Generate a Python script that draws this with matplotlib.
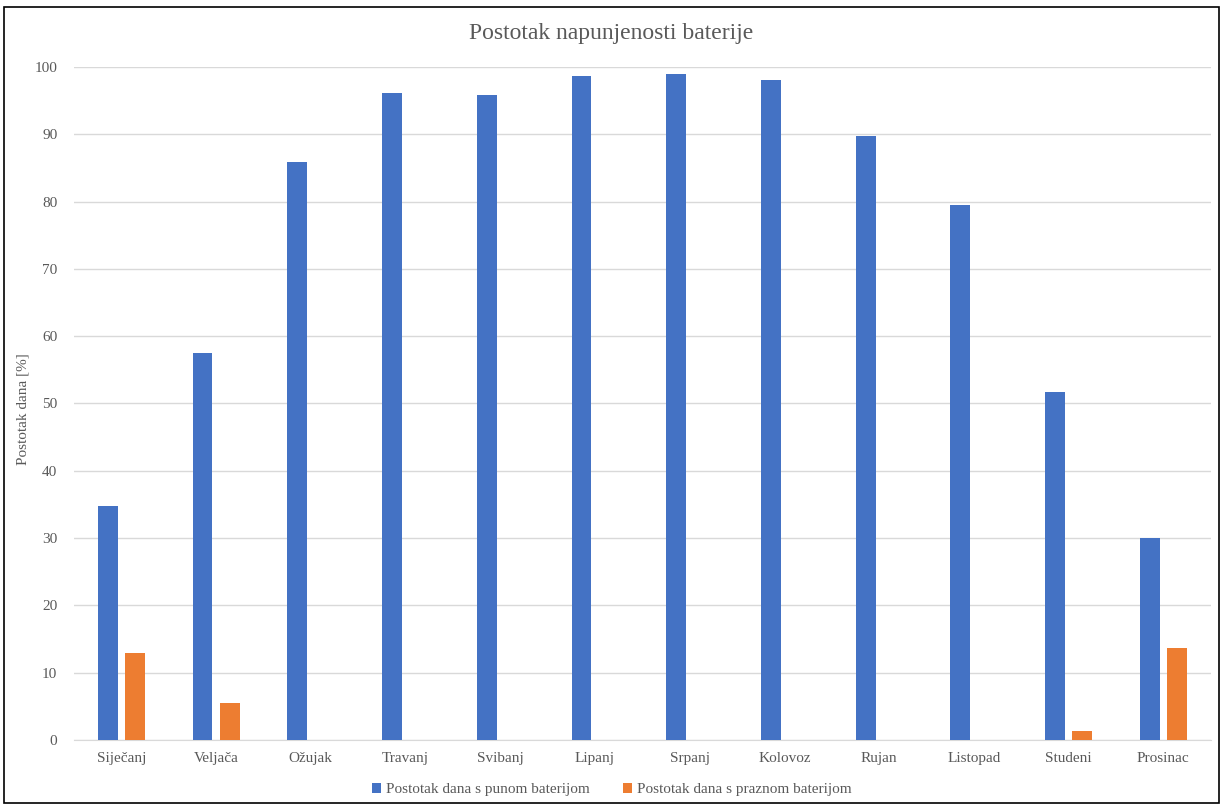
import matplotlib
matplotlib.use("Agg")
import matplotlib.pyplot as plt
from matplotlib.patches import Rectangle
import numpy as np

plt.rcParams['font.family'] = ['Liberation Serif', 'DejaVu Serif']

months = ["Siječanj", "Veljača", "Ožujak", "Travanj", "Svibanj", "Lipanj",
          "Srpanj", "Kolovoz", "Rujan", "Listopad", "Studeni", "Prosinac"]
full_battery = [34.8, 57.5, 85.9, 96.1, 95.8, 98.7, 99.0, 98.1, 89.7, 79.5, 51.7, 30.0]
empty_battery = [12.9, 5.5, 0, 0, 0, 0, 0, 0, 0, 0, 1.3, 13.7]
series_names = ["Postotak dana s punom baterijom", "Postotak dana s praznom baterijom"]
title = "Postotak napunjenosti baterije"
ylabel = "Postotak dana [%]"

fig = plt.figure(figsize=(12.23, 8.06), dpi=100)
ax = fig.add_axes([0.0605, 0.0819, 0.9295, 0.8351])

x = np.arange(len(months))
w = 0.21
off = 0.143
ax.bar(x - off, full_battery, w, color="#4472C4", label=series_names[0], zorder=3)
ax.bar(x + off, empty_battery, w, color="#ED7D31", label=series_names[1], zorder=3)

ax.set_xlim(-0.5, len(months) - 0.5)
ax.set_ylim(0, 100)
ax.set_yticks(np.arange(0, 101, 10))
ax.set_xticks(x)
ax.set_xticklabels(months)
ax.grid(axis='y', color="#D9D9D9", linewidth=1, zorder=0)
for s in ["top", "right", "left"]:
    ax.spines[s].set_visible(False)
ax.spines["bottom"].set_color("#D9D9D9")
ax.tick_params(axis='both', length=0, colors="#595959", labelsize=11)
ax.tick_params(axis='y', pad=12)
ax.tick_params(axis='x', pad=9)

fig.text(0.5, 0.958, title, ha='center', va='center', fontsize=17, color="#595959")
fig.text(0.019, 0.493, ylabel, rotation=90, ha='center', va='center', fontsize=11, color="#595959")

leg = fig.legend(loc='center', bbox_to_anchor=(0.5, 0.02), ncol=2, frameon=False,
                 fontsize=11, handlelength=0.6, handleheight=0.6, handletextpad=0.3,
                 columnspacing=2.2)
for t in leg.get_texts():
    t.set_color("#595959")

fig.patches.append(Rectangle((0.0033, 0.004), 0.9934, 0.987, transform=fig.transFigure,
                             fill=False, edgecolor="black", linewidth=1.2))

fig.savefig("out.png", dpi=100, facecolor="white")
